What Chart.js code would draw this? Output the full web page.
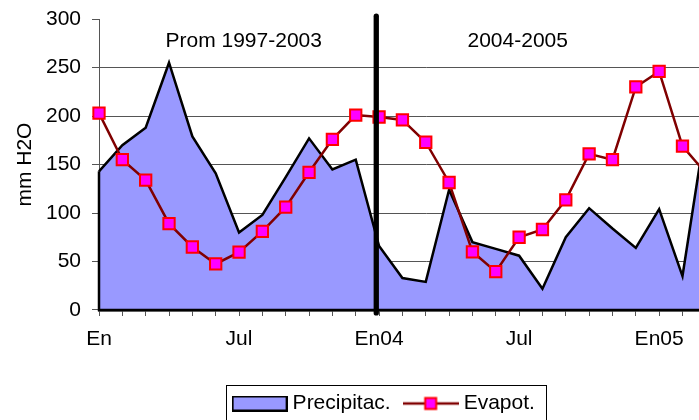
<!DOCTYPE html>
<html><head><meta charset="utf-8">
<script src="https://cdn.jsdelivr.net/npm/chart.js@4"></script>
<style>html,body{margin:0;padding:0;overflow:hidden;background:#fff;width:699px;height:420px}canvas{display:block}</style>
</head><body>
<canvas id="c" width="772" height="424"></canvas>
<script>
const months = ["En","Feb","Mar","Abr","May","Jun","Jul","Ago","Sep","Oct","Nov","Dic","En04","Feb","Mar","Abr","May","Jun","Jul","Ago","Sep","Oct","Nov","Dic","En05","Feb","Mar","Abr","May"];
const precipitacion = [143,170,188,255,179,141,80,98,137,177,145,155,66,33,29,124,70,63,56,22,75,105,84,64,104,35,190];
const evapotranspiracion = [203,155,134,89,65,47.5,59.6,81,106,142,176,201,199,196,173,131.5,60,39.6,75,83,113.6,161,155,230,246,169,141];
const yTicks = [0,50,100,150,200,250,300];
const periodLabels = ["Prom 1997-2003","2004-2005"];
const seriesNames = ["Precipitac.","Evapot."];

const FONT = "'Liberation Sans', Arial, sans-serif";
Chart.defaults.font.family = FONT;
Chart.defaults.font.size = 21;
Chart.defaults.color = '#000';

function areaIcon(){
  const c=document.createElement('canvas'); c.width=56; c.height=16;
  const g=c.getContext('2d');
  g.fillStyle='#9999FF'; g.fillRect(1,1,54,14);
  g.strokeStyle='#000'; g.lineWidth=2; g.strokeRect(1,1,54,14);
  return c;
}
function lineIcon(){
  const c=document.createElement('canvas'); c.width=56; c.height=16;
  const g=c.getContext('2d');
  g.strokeStyle='#800000'; g.lineWidth=2.5;
  g.beginPath(); g.moveTo(0,8); g.lineTo(56,8); g.stroke();
  g.fillStyle='#FF00FF'; g.fillRect(22.5,2.5,11,11);
  g.strokeStyle='#FF0000'; g.lineWidth=2; g.strokeRect(22.5,2.5,11,11);
  return c;
}
const icons = [areaIcon(), lineIcon()];

const overlay = {
  id:'overlay',
  afterDatasetsDraw(chart, args, opts){
    const {ctx, scales:{x,y}} = chart;
    const pts = chart.getDatasetMeta(1).data;
    const first = pts[0], last = pts[precipitacion.length-1];
    const y0 = y.getPixelForValue(0);
    ctx.save();
    ctx.strokeStyle='#000'; ctx.lineWidth=2.5; ctx.lineJoin='miter';
    ctx.beginPath(); ctx.moveTo(first.x, first.y); ctx.lineTo(first.x, y0); ctx.lineTo(last.x, y0); ctx.stroke();
    const sx = x.getPixelForValue(opts.separator);
    ctx.lineWidth=5.3; ctx.lineCap='round';
    ctx.beginPath(); ctx.moveTo(sx, y.getPixelForValue(-3)); ctx.lineTo(sx, y.getPixelForValue(303)); ctx.stroke();
    ctx.fillStyle='#000'; ctx.font='21px '+FONT; ctx.textAlign='center'; ctx.textBaseline='middle';
    periodLabels.forEach((t,i)=>ctx.fillText(t, x.getPixelForValue(opts.centers[i]), y.getPixelForValue(opts.level)));
    ctx.restore();
  },
  afterDraw(chart){
    const hb = chart.legend.legendHitBoxes;
    if(!hb || !hb.length) return;
    const ctx = chart.ctx;
    const l = hb[0].left - 11.5, r = hb[hb.length-1].left + hb[hb.length-1].width + 11, t = hb[0].top - 8;
    ctx.save(); ctx.strokeStyle='#000'; ctx.lineWidth=1;
    ctx.strokeRect(Math.round(l)+0.5, Math.round(t)+0.5, Math.round(r-l), 60);
    ctx.restore();
  }
};

new Chart(document.getElementById('c'), {
  type:'line',
  data:{
    labels: months,
    datasets:[
      { label: seriesNames[1], data: evapotranspiracion, order:0,
        borderColor:'#800000', borderWidth:2.5, tension:0, fill:false,
        pointStyle:'rect', pointRadius:8, pointBackgroundColor:'#FF00FF', pointBorderColor:'#FF0000', pointBorderWidth:2 },
      { label: seriesNames[0], data: precipitacion, order:1,
        borderColor:'#000', borderWidth:2.5, backgroundColor:'#9999FF', fill:'origin', tension:0, pointRadius:0 }
    ]
  },
  options:{
    responsive:false, animation:false,
    layout:{ padding:{ top:0, right:19.5, left:19.5, bottom:0 } },
    plugins:{
      tooltip:{enabled:false},
      legend:{ position:'bottom', align:'center',
        labels:{ usePointStyle:true, pointStyleWidth:45, padding:17.5, font:{size:21}, color:'#000',
          generateLabels:(chart)=>[1,0].map((di,k)=>({ text: chart.data.datasets[di].label, pointStyle: icons[k], datasetIndex: di, hidden:false, fillStyle:'transparent', strokeStyle:'transparent', lineWidth:0 })) } },
      overlay:{ separator:11.88, centers:[6.2,17.94], level:277 }
    },
    scales:{
      x:{ type:'category',
        grid:{ drawOnChartArea:false, drawTicks:true, tickLength:6, color:'#555' },
        border:{ display:true, color:'#000', width:2.5 },
        ticks:{ autoSkip:false, maxRotation:0, minRotation:0, padding:11, font:{size:21}, color:'#000',
          callback:(v,i)=> i%6===0 ? months[i] : '' },
        afterFit:(s)=>{ s.height = 65.5; } },
      y:{ min:0, max:300,
        afterBuildTicks:(s)=>{ s.ticks = yTicks.map(v=>({value:v})); },
        grid:{ color:(c)=> c.tick && c.tick.value===300 ? 'rgba(0,0,0,0)' : '#555', tickColor:'#555', tickLength:7, lineWidth:1 },
        border:{ color:'#555', width:1 },
        ticks:{ padding:11, font:{size:21, lineHeight:0.77}, color:'#000' },
        title:{ display:true, text:'mm H2O', font:{size:21}, color:'#000', padding:{top:-6.9,bottom:0} },
        afterFit:(s)=>{ s.width = 79.5; } }
    }
  },
  plugins:[overlay]
});
</script>
</body></html>
